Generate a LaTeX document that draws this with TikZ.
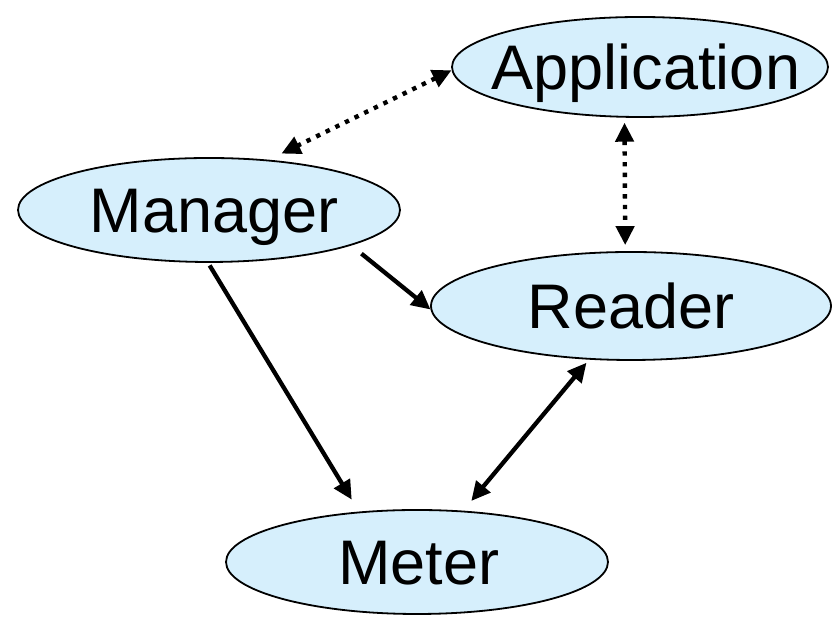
\documentclass[tikz,border=0pt]{standalone}
\usepackage{fontspec}
\setmainfont{Liberation Sans}
\usetikzlibrary{shapes.geometric,arrows.meta}
\definecolor{nodefill}{RGB}{214,239,252}
\newcommand{\ctext}[2][0pt]{\smash{\makebox[0pt]{\hspace*{#1}\raisebox{-22.5pt}{#2}}}}
\tikzset{
  ebox/.style={ellipse, draw=black, line width=1.8pt, fill=nodefill, inner sep=0pt,
    font=\fontsize{63}{70}\selectfont},
  tipstyle/.style={-{Triangle[length=19pt,width=18pt]}},
  dbl/.style={{Triangle[length=19pt,width=18pt]}-{Triangle[length=19pt,width=18pt]}},
  solidcon/.style={line width=4.3pt},
  dotcon/.style={line width=4.4pt, dash pattern=on 4.4pt off 6.3pt}
}
\begin{document}
\begin{tikzpicture}[x=1pt,y=1pt]
\useasboundingbox (0,0) rectangle (839,617);
\node[ebox, minimum width=376pt, minimum height=100pt] (app) at (640,550) {\ctext[12pt]{Application}};
\node[ebox, minimum width=382pt, minimum height=104pt] (man) at (209,407) {\ctext[10pt]{Manager}};
\node[ebox, minimum width=400pt, minimum height=108pt] (rdr) at (631,311) {\ctext{Reader}};
\node[ebox, minimum width=382pt, minimum height=104pt] (met) at (417,55) {\ctext[4pt]{Meter}};
\draw[dotcon, dbl, shorten <=0pt, shorten >=14pt] (app.181.5) -- (man.40.2);
\draw[dotcon, dbl, shorten <=5pt, shorten >=6pt] (app.253.2) -- (rdr.96.3);
\draw[solidcon, tipstyle, shorten <=13pt] (man.346.2) -- (rdr.181.2);
\draw[solidcon, tipstyle, shorten <=3pt, shorten >=14pt] (man.269) -- (met.139.8);
\draw[solidcon, dbl, shorten <=12.6pt, shorten >=4pt] (met.48.5) -- (rdr.232.5);
\end{tikzpicture}
\end{document}
